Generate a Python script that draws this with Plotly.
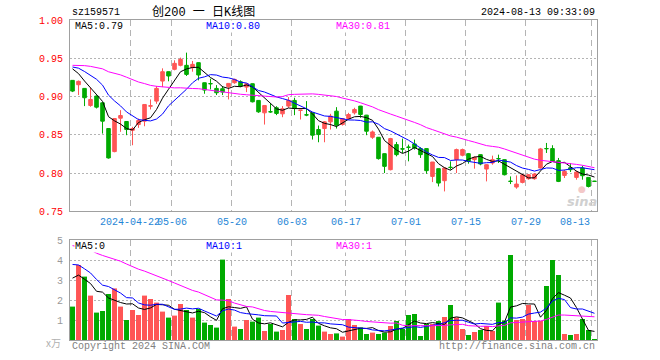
import plotly.graph_objects as go
import pandas as pd

# ---------------- data ----------------
# 29 sessions before the first visible candle (only used for moving averages)
prior_close = [0.912, 0.918, 0.925, 0.921, 0.930, 0.935, 0.928, 0.940, 0.948, 0.955,
               0.960, 0.952, 0.958, 0.947, 0.953, 0.962, 0.950, 0.945, 0.951, 0.948,
               0.935, 0.942, 0.946, 0.938, 0.944, 0.951, 0.947, 0.940, 0.936]
prior_volume = [5.6, 4.9, 5.3, 6.1, 4.8, 5.0, 5.5, 4.7, 5.2, 5.9, 4.6, 5.1, 5.4, 4.9, 5.0,
                5.3, 4.9, 5.6, 4.8, 5.2, 4.0, 5.1, 4.3, 4.6, 4.3,
                3.0, 4.2, 3.3, 3.3]

open_ = [0.9212, 0.9155, 0.9107, 0.8884, 0.9007, 0.8919, 0.8583, 0.8282, 0.8718, 0.8675,
         0.8560, 0.8635, 0.8679, 0.8875, 0.8941, 0.9203, 0.9325, 0.9356, 0.9408, 0.9408,
         0.9378, 0.9443, 0.9181, 0.9170, 0.9107, 0.9103, 0.9129, 0.9181, 0.9194, 0.9124,
         0.9168, 0.8950, 0.8788, 0.8803, 0.8854, 0.8775, 0.8876, 0.8950, 0.8820, 0.8763,
         0.8788, 0.8570, 0.8583, 0.8670, 0.8810, 0.8635, 0.8714, 0.8788, 0.8876, 0.8758,
         0.8469, 0.8469, 0.8255, 0.8046, 0.8373, 0.8318, 0.8340, 0.8382, 0.8321, 0.8321,
         0.7958, 0.8059, 0.7902, 0.8077, 0.8177, 0.8234, 0.8255, 0.8177, 0.8242, 0.8054,
         0.8133, 0.8191, 0.8177, 0.7895, 0.7819, 0.7880, 0.7928, 0.7928, 0.8068, 0.8322,
         0.8321, 0.8164, 0.7971, 0.8072, 0.7945, 0.8068, 0.7945, 0.7895]
high = [0.9216, 0.9210, 0.9110, 0.9116, 0.9015, 0.8922, 0.8586, 0.8714, 0.8823, 0.8678,
        0.8605, 0.8714, 0.8897, 0.8963, 0.9138, 0.9369, 0.9328, 0.9474, 0.9509, 0.9574,
        0.9465, 0.9446, 0.9184, 0.9234, 0.9150, 0.9138, 0.9172, 0.9234, 0.9212, 0.9172,
        0.9171, 0.8953, 0.8884, 0.8910, 0.8875, 0.8876, 0.8993, 0.8985, 0.8825, 0.8941,
        0.8791, 0.8622, 0.8679, 0.8775, 0.8862, 0.8714, 0.8788, 0.8854, 0.8879, 0.8761,
        0.8557, 0.8472, 0.8258, 0.8461, 0.8408, 0.8452, 0.8373, 0.8439, 0.8338, 0.8324,
        0.8146, 0.8062, 0.8076, 0.8155, 0.8321, 0.8321, 0.8264, 0.8220, 0.8245, 0.8120,
        0.8229, 0.8242, 0.8180, 0.7958, 0.7971, 0.7989, 0.7989, 0.8002, 0.8330, 0.8395,
        0.8365, 0.8199, 0.8046, 0.8133, 0.8033, 0.8098, 0.7948, 0.7900]
low = [0.9059, 0.9020, 0.8876, 0.8867, 0.8845, 0.8517, 0.8190, 0.8273, 0.8540, 0.8496,
       0.8365, 0.8592, 0.8613, 0.8832, 0.8906, 0.9124, 0.9200, 0.9343, 0.9395, 0.9269,
       0.9325, 0.9212, 0.9037, 0.9094, 0.9020, 0.9020, 0.8963, 0.9168, 0.9124, 0.9059,
       0.8924, 0.8788, 0.8635, 0.8788, 0.8758, 0.8731, 0.8854, 0.8758, 0.8701, 0.8744,
       0.8439, 0.8404, 0.8404, 0.8570, 0.8583, 0.8622, 0.8701, 0.8766, 0.8723, 0.8496,
       0.8448, 0.8177, 0.8002, 0.8037, 0.8220, 0.8264, 0.8155, 0.8308, 0.8199, 0.7993,
       0.7884, 0.7827, 0.7762, 0.8046, 0.8002, 0.8220, 0.8124, 0.8059, 0.8103, 0.7893,
       0.8111, 0.8133, 0.7971, 0.7858, 0.7797, 0.7867, 0.7915, 0.7915, 0.8059, 0.8264,
       0.8146, 0.7884, 0.7937, 0.8015, 0.7915, 0.7915, 0.7814, 0.7885]
close = [0.9072, 0.9199, 0.8985, 0.8963, 0.8862, 0.8679, 0.8199, 0.8714, 0.8753, 0.8570,
         0.8583, 0.8688, 0.8897, 0.8880, 0.9107, 0.9325, 0.9269, 0.9434, 0.9487, 0.9290,
         0.9421, 0.9282, 0.9085, 0.9168, 0.9050, 0.9059, 0.9172, 0.9225, 0.9138, 0.9168,
         0.8932, 0.8801, 0.8884, 0.8801, 0.8780, 0.8841, 0.8950, 0.8845, 0.8823, 0.8760,
         0.8496, 0.8504, 0.8670, 0.8745, 0.8627, 0.8714, 0.8766, 0.8832, 0.8766, 0.8548,
         0.8539, 0.8190, 0.8089, 0.8452, 0.8242, 0.8316, 0.8338, 0.8330, 0.8242, 0.8033,
         0.8146, 0.7871, 0.8068, 0.8075, 0.8308, 0.8308, 0.8155, 0.8207, 0.8120, 0.8111,
         0.8177, 0.8189, 0.7980, 0.7893, 0.7858, 0.7980, 0.7980, 0.7989, 0.8317, 0.8320,
         0.8155, 0.7893, 0.8024, 0.8046, 0.8015, 0.7967, 0.7827, 0.7893]
volume = [1.67, 3.75, 3.17, 2.22, 1.37, 1.45, 2.30, 2.58, 1.67, 1.00,
          1.50, 1.25, 2.22, 2.05, 1.87, 1.42, 1.12, 1.22, 1.80, 1.50,
          1.12, 1.55, 0.87, 0.75, 0.62, 4.02, 2.05, 0.67, 0.55, 1.00,
          0.92, 1.12, 0.45, 0.80, 0.42, 0.50, 2.25, 1.05, 0.80, 0.55,
          1.05, 0.72, 0.42, 0.30, 0.33, 0.17, 1.05, 0.75, 0.63, 0.30,
          0.37, 0.30, 0.37, 0.70, 0.95, 0.55, 1.25, 1.30, 0.20, 0.80,
          0.80, 0.95, 1.15, 1.75, 1.13, 0.55, 0.25, 0.40, 0.50, 0.70,
          0.45, 1.87, 0.97, 4.25, 1.00, 1.05, 1.75, 0.95, 0.95, 2.70,
          4.00, 3.25, 0.30, 0.25, 0.30, 1.05, 0.50, 0.05]

date_index = [10, 17, 27, 37, 46, 56, 66, 76, 87]
date_labels = ["2024-04-22", "05-06", "05-20", "06-03", "06-17", "07-01", "07-15", "07-29", "08-13"]
price_ticks = [0.75, 0.80, 0.85, 0.90, 0.95, 1.00]
volume_ticks = [1, 2, 3, 4, 5]

symbol = "sz159571"
title_text = "创200 一 日K线图"
stamp = "2024-08-13 09:33:09"
price_ma_labels = ["MA5:0.79", "MA10:0.80", "MA30:0.81"]
volume_ma_labels = ["MA5:0", "MA10:1", "MA30:1"]

# ---------------- styling ----------------
RED = "#ff5555"
GREEN = "#00aa00"
MA_COLORS = ["#000000", "#0000ff", "#ff00ff"]
MA_WIN = [5, 10, 30]
GRID = "#b4b4b4"
BORDER = "#a0a0a0"
MONO = "Liberation Mono, DejaVu Sans Mono, monospace"

n = len(close)
xs = list(range(n))
npre = len(prior_close)


def ma(series_pre, series, w):
    s = pd.Series(series_pre + series).rolling(w).mean()
    return s.tolist()[npre:]


fig = go.Figure()

fig.add_trace(go.Candlestick(
    x=xs, open=open_, high=high, low=low, close=close,
    xaxis="x", yaxis="y",
    increasing=dict(line=dict(color=RED, width=1), fillcolor=RED),
    decreasing=dict(line=dict(color=GREEN, width=1), fillcolor=GREEN),
    whiskerwidth=0, hoverinfo="skip", showlegend=False))

for w, col in zip(MA_WIN, MA_COLORS):
    fig.add_trace(go.Scatter(x=xs, y=ma(prior_close, close, w), mode="lines",
                             line=dict(color=col, width=1), xaxis="x", yaxis="y",
                             hoverinfo="skip", showlegend=False))

vol_colors = [RED if c > o else GREEN for o, c in zip(open_, close)]
fig.add_trace(go.Bar(x=xs, y=volume, marker=dict(color=vol_colors, line=dict(width=0)),
                     width=0.83, xaxis="x2", yaxis="y2", hoverinfo="skip", showlegend=False))

for w, col in zip(MA_WIN, MA_COLORS):
    fig.add_trace(go.Scatter(x=xs, y=ma(prior_volume, volume, w), mode="lines",
                             line=dict(color=col, width=1), xaxis="x2", yaxis="y2",
                             hoverinfo="skip", showlegend=False))

xrange = [-0.42, n - 1 + 0.42]
grid_x = [i - 0.42 for i in date_index]

common_x = dict(range=xrange, showticklabels=False, ticks="", showgrid=True,
                gridcolor=GRID, griddash="6px,4px", gridwidth=1, tickmode="array",
                tickvals=grid_x, showline=True, mirror=True, linecolor=BORDER, linewidth=1,
                zeroline=False, fixedrange=True)

MAIN_BOTTOM = 0.4016
VOL_TOP = 0.3125

fig.update_layout(
    width=660, height=360,
    margin=dict(l=70, r=63, t=20, b=20),
    paper_bgcolor="white", plot_bgcolor="white",
    boxgap=0.15,
    xaxis=dict(domain=[0, 1], anchor="y", rangeslider=dict(visible=False), **common_x),
    xaxis2=dict(domain=[0, 1], anchor="y2", matches="x", **common_x),
    yaxis=dict(domain=[MAIN_BOTTOM, 1], range=[0.75, 1.00], tickmode="array",
               tickvals=price_ticks, ticktext=[f"{v:.2f}" for v in price_ticks],
               tickfont=dict(family=MONO, size=10, color="#ff0000"), ticks="",
               ticklabelstandoff=4,
               showgrid=True, gridcolor=GRID, griddash="2px,2px", gridwidth=1,
               showline=True, mirror=True, linecolor=BORDER, linewidth=1,
               zeroline=False, fixedrange=True),
    yaxis2=dict(domain=[0, VOL_TOP], range=[0, 5], tickmode="array",
                tickvals=volume_ticks, ticktext=[str(v) for v in volume_ticks],
                tickfont=dict(family=MONO, size=10, color="#999999"), ticks="",
                ticklabelstandoff=4,
                showgrid=True, gridcolor=GRID, griddash="2px,2px", gridwidth=1,
                showline=True, mirror=True, linecolor=BORDER, linewidth=1,
                zeroline=False, fixedrange=True),
    showlegend=False,
)


def py(Y):
    # pixel row -> paper coordinate (plot area spans rows 20..340)
    return (340 - Y) / 320.0


def px(X):
    return (X - 70) / 527.0


ann = []
ann.append(dict(text=symbol, x=px(70), y=py(13), xanchor="left", yanchor="middle",
                font=dict(family=MONO, size=10, color="#000000")))
ann.append(dict(text=title_text, x=px(150), y=py(13), xanchor="left", yanchor="middle",
                font=dict(family="Liberation Mono, Noto Sans CJK SC", size=12, color="#000000")))
ann.append(dict(text=stamp, x=px(597), y=py(13), xanchor="right", yanchor="middle",
                font=dict(family=MONO, size=10, color="#000000")))

for lab, col, X in zip(price_ma_labels, MA_COLORS, [74, 205, 335]):
    ann.append(dict(text=lab, x=px(X), y=py(26.5), xanchor="left", yanchor="middle",
                    bgcolor="white", borderpad=0,
                    font=dict(family=MONO, size=10, color=col)))
for lab, col, X in zip(volume_ma_labels, MA_COLORS, [74, 205, 335]):
    ann.append(dict(text=lab, x=px(X), y=py(246.5), xanchor="left", yanchor="middle",
                    bgcolor="white", borderpad=0,
                    font=dict(family=MONO, size=10, color=col)))

for i, lab in zip(date_index, date_labels):
    last = (i == date_index[-1])
    ann.append(dict(text=lab, xref="x", x=i - 0.42, y=py(222), yref="paper",
                    xanchor="right" if last else "center", yanchor="middle",
                    font=dict(family=MONO, size=10, color="#1f86d6")))

ann.append(dict(text="Copyright 2024 SINA.COM", x=px(70), y=py(346.5), xanchor="left",
                yanchor="middle", font=dict(family=MONO, size=10, color="#808080")))
ann.append(dict(text="http://finance.sina.com.cn", x=px(597), y=py(346.5), xanchor="right",
                yanchor="middle", font=dict(family=MONO, size=10, color="#808080")))
ann.append(dict(text="x万", x=px(63), y=py(342), xanchor="right", yanchor="middle",
                font=dict(family="Noto Sans CJK SC", size=10, color="#b0b0b0")))
ann.append(dict(text="<b><i>sina</i></b>", x=px(582), y=py(201), xanchor="center",
                yanchor="middle", font=dict(family="DejaVu Sans", size=13, color="#d0d0d0")))
ann.append(dict(text="●", x=px(582), y=py(189), xanchor="center", yanchor="middle",
                font=dict(family="DejaVu Sans", size=9, color="#f3c8c8")))

for a in ann:
    a.setdefault("xref", "paper")
    a.setdefault("yref", "paper")
    a["showarrow"] = False
fig.update_layout(annotations=ann)

fig.write_html("out.html",
               config={"displayModeBar": False, "staticPlot": True},
               post_script="document.body.style.margin='0px';document.body.style.padding='0px';")
